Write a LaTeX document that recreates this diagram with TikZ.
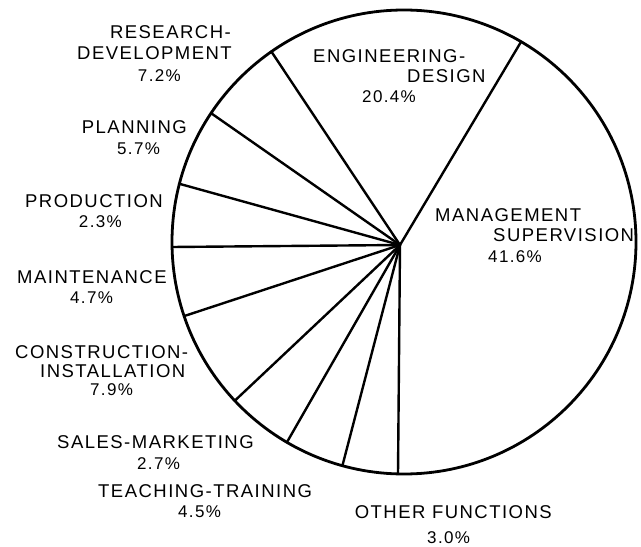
\documentclass[tikz,border=0pt]{standalone}
\usepackage{fontspec}
\newfontfamily\lblfont{Liberation Sans}[LetterSpace=8]
\begin{document}
\begin{tikzpicture}[x=1bp,y=-1bp,
  rim/.style={line width=2.8bp},
  spoke/.style={line width=2.4bp,line cap=round},
  word/.style={inner sep=0pt,font=\lblfont\fontsize{18.5bp}{20bp}\selectfont},
  pct/.style={inner sep=0pt,font=\lblfont\fontsize{17bp}{20bp}\selectfont}]
\useasboundingbox (0,0) rectangle (641,547);
% pie
\coordinate (O) at (404,242);
\coordinate (hub) at (400,245);
\draw[rim] (O) circle[radius=232];
\coordinate (b1) at (521.1,41.7);
\coordinate (b2) at (271.4,51.6);
\coordinate (b3) at (211.1,113.2);
\coordinate (b4) at (179.4,183.8);
\coordinate (b5) at (172,247);
\coordinate (b6) at (184.1,316.1);
\coordinate (b7) at (234.8,400.7);
\coordinate (b8) at (286.9,442.3);
\coordinate (b9) at (342.4,465.7);
\coordinate (b10) at (398,473.9);
\foreach \b in {b1,b2,b3,b4,b5,b6,b7,b8,b9,b10}
  \draw[spoke] (hub) -- (\b);
% labels
\node[word,anchor=base east] (rd1) at (231,39) {RESEARCH-};
\node[word,anchor=base east] (rd2) at (232,60) {DEVELOPMENT};
\node[pct,anchor=base east] (rd3) at (181,82) {7.2\%};
\node[word,anchor=base west] (ed1) at (313,63) {ENGINEERING-};
\node[word,anchor=base west] (ed2) at (407,83) {DESIGN};
\node[pct,anchor=base west] (ed3) at (362,103) {20.4\%};
\node[word,anchor=base east] (pl1) at (187,134) {PLANNING};
\node[pct,anchor=base west] (pl2) at (117,155) {5.7\%};
\node[word,anchor=base east] (pr1) at (163,208) {PRODUCTION};
\node[pct,anchor=base east] (pr2) at (122,228) {2.3\%};
\node[word,anchor=base west] (mt1) at (17,283) {MAINTENANCE};
\node[pct,anchor=base west] (mt2) at (70,303) {4.7\%};
\node[word,anchor=base west] (ci1) at (15,358) {CONSTRUCTION-};
\node[word,anchor=base west] (ci2) at (40,377) {INSTALLATION};
\node[pct,anchor=base west] (ci3) at (90,395) {7.9\%};
\node[word,anchor=base west] (sm1) at (57,448) {SALES-MARKETING};
\node[pct,anchor=base west] (sm2) at (137,469) {2.7\%};
\node[word,anchor=base west] (tt1) at (98,497) {TEACHING-TRAINING};
\node[pct,anchor=base west] (tt2) at (178,517) {4.5\%};
\node[word,anchor=base east] (of1) at (552,518) {OTHER FUNCTIONS};
\node[pct,anchor=base west] (of2) at (427,543) {3.0\%};
\node[word,anchor=base west] (ms1) at (435,222) {MANAGEMENT};
\node[word,anchor=base west] (ms2) at (493,242) {SUPERVISION};
\node[pct,anchor=base west] (ms3) at (488,262) {41.6\%};
\end{tikzpicture}
\end{document}
